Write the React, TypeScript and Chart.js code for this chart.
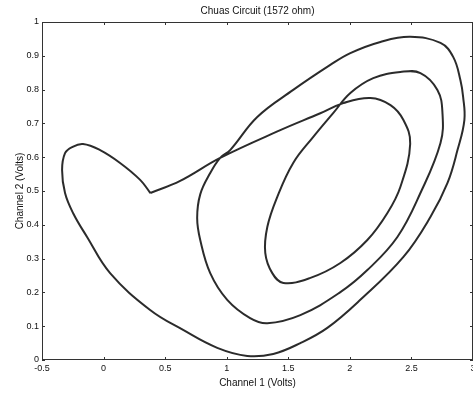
import React, { useEffect, useRef } from "react";
import { Chart, registerables } from "chart.js";

Chart.register(...registerables);

const TITLE = "Chuas Circuit (1572 ohm)";
const X_LABEL = "Channel 1 (Volts)";
const Y_LABEL = "Channel 2 (Volts)";

// Trajectory of the attractor (Channel 1 vs Channel 2)
const channel1: number[] = [
  0.38, 0.622, 0.947, 1.435, 1.76, 1.947, 2.167, 2.33, 2.435, 2.49,
  2.41, 2.305, 2.142, 1.923, 1.68, 1.46, 1.37, 1.313, 1.33, 1.41,
  1.54, 1.703, 1.866, 2.004, 2.19, 2.41, 2.573, 2.711, 2.752, 2.736,
  2.573, 2.386, 2.142, 1.92, 1.598, 1.33, 1.19, 1.004, 0.866, 0.785,
  0.76, 0.785, 0.866, 0.947, 1.028, 1.248, 1.54, 1.841, 2.004, 2.248,
  2.49, 2.736, 2.84, 2.898, 2.92, 2.93, 2.874, 2.793, 2.654, 2.435,
  2.085, 1.817, 1.598, 1.378, 1.167, 0.923, 0.646, 0.378, 0.053, -0.134,
  -0.248, -0.313, -0.337, -0.313, -0.256, -0.167, -0.028, 0.134, 0.297, 0.38,
];
const channel2: number[] = [
  0.494, 0.53, 0.598, 0.68, 0.73, 0.76, 0.775, 0.754, 0.71, 0.64,
  0.512, 0.435, 0.355, 0.287, 0.243, 0.228, 0.257, 0.317, 0.394, 0.482,
  0.583, 0.66, 0.731, 0.79, 0.834, 0.852, 0.849, 0.799, 0.731, 0.642,
  0.494, 0.364, 0.266, 0.2, 0.133, 0.109, 0.124, 0.178, 0.257, 0.355,
  0.42, 0.49, 0.553, 0.598, 0.621, 0.719, 0.799, 0.873, 0.908, 0.941,
  0.956, 0.938, 0.896, 0.828, 0.778, 0.71, 0.621, 0.524, 0.423, 0.305,
  0.178, 0.095, 0.05, 0.018, 0.012, 0.036, 0.089, 0.148, 0.257, 0.364,
  0.435, 0.494, 0.562, 0.612, 0.63, 0.639, 0.621, 0.583, 0.533, 0.494,
];

const X_MIN = -0.5;
const X_MAX = 3;
const X_STEP = 0.5;
const Y_MIN = 0;
const Y_MAX = 1;
const Y_STEP = 0.1;

const FONT = "'Liberation Sans', Arial, Helvetica, sans-serif";

const fmt = (v: number | string) => String(Number(Number(v).toFixed(2)));

const boxPlugin = {
  id: "matlabBox",
  afterDraw(chart: any) {
    const { ctx, chartArea } = chart;
    const { left, right, top, bottom } = chartArea;
    const xs = chart.scales.x;
    const ys = chart.scales.y;
    ctx.save();
    ctx.strokeStyle = "#333";
    ctx.lineWidth = 1;
    ctx.strokeRect(left + 0.5, top + 0.5, right - left - 1, bottom - top - 1);
    const tl = 3;
    ctx.beginPath();
    xs.ticks.forEach((t: any) => {
      const px = Math.round(xs.getPixelForValue(t.value)) + 0.5;
      ctx.moveTo(px, bottom);
      ctx.lineTo(px, bottom - tl);
      ctx.moveTo(px, top);
      ctx.lineTo(px, top + tl);
    });
    ys.ticks.forEach((t: any) => {
      const py = Math.round(ys.getPixelForValue(t.value)) + 0.5;
      ctx.moveTo(left, py);
      ctx.lineTo(left + tl, py);
      ctx.moveTo(right, py);
      ctx.lineTo(right - tl, py);
    });
    ctx.stroke();
    ctx.restore();
  },
};

export default function App() {
  const ref = useRef<HTMLCanvasElement | null>(null);

  useEffect(() => {
    if (!ref.current) return;
    const points = channel1.map((x, i) => ({ x, y: channel2[i] }));
    const chart = new Chart(ref.current, {
      type: "scatter",
      data: {
        datasets: [
          {
            data: points,
            showLine: true,
            borderColor: "rgba(25,25,25,0.92)",
            borderWidth: 2,
            pointRadius: 0,
            tension: 0.4,
            fill: false,
          },
        ],
      },
      options: {
        animation: false,
        responsive: false,
        maintainAspectRatio: false,
        layout: { padding: 0 },
        plugins: {
          legend: { display: false },
          tooltip: { enabled: false },
          title: {
            display: true,
            fullSize: false,
            text: TITLE,
            color: "#111",
            font: { family: FONT, size: 10, weight: "normal" },
            padding: { top: 5, bottom: 5 },
          },
        },
        scales: {
          x: {
            type: "linear",
            min: X_MIN,
            max: X_MAX,
            grid: { display: false, drawTicks: false },
            border: { display: false },
            ticks: {
              stepSize: X_STEP,
              color: "#111",
              padding: 3,
              maxRotation: 0,
              font: { family: FONT, size: 9 },
              callback: (v: any) => fmt(v),
            },
            title: {
              display: true,
              text: X_LABEL,
              color: "#111",
              font: { family: FONT, size: 10 },
              padding: { top: 0, bottom: 7 },
            },
            afterFit(scale: any) {
              scale.height = 36;
              scale.paddingLeft = 0;
              scale.paddingRight = 0;
            },
          },
          y: {
            type: "linear",
            min: Y_MIN,
            max: Y_MAX,
            grid: { display: false, drawTicks: false },
            border: { display: false },
            ticks: {
              stepSize: Y_STEP,
              color: "#111",
              padding: 3,
              font: { family: FONT, size: 9 },
              callback: (v: any) => fmt(v),
            },
            title: {
              display: true,
              text: Y_LABEL,
              color: "#111",
              font: { family: FONT, size: 10 },
              padding: { top: 14, bottom: 0 },
            },
            afterFit(scale: any) {
              scale.width = 42;
              scale.paddingTop = 0;
              scale.paddingBottom = 0;
            },
          },
        },
      },
      plugins: [boxPlugin],
    });
    return () => chart.destroy();
  }, []);

  return (
    <div
      style={{
        position: "fixed",
        left: 0,
        top: 0,
        width: 473,
        height: 396,
        background: "#fff",
        overflow: "hidden",
      }}
    >
      <canvas ref={ref} width={473} height={396} style={{ display: "block" }} />
    </div>
  );
}
